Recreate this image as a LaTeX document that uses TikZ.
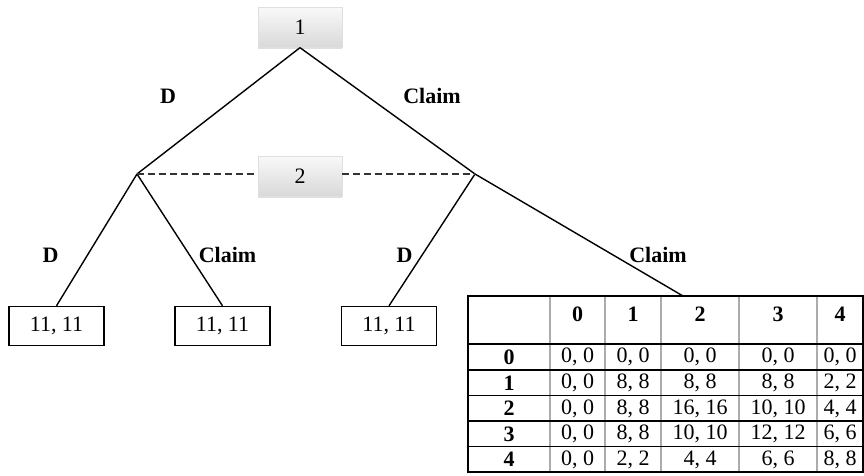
\documentclass[tikz,border=0pt]{standalone}
\usepackage{fontspec}
\setmainfont{Liberation Serif}
\usetikzlibrary{shadows}
\begin{document}
\begin{tikzpicture}[x=1pt,y=-1pt,
  every node/.style={font=\fontsize{22}{24}\selectfont, inner sep=0pt},
  player/.style={minimum width=84pt, minimum height=40pt, top color=gray!5, bottom color=gray!30, draw=gray!25, line width=0.3pt,
    drop shadow={opacity=0.25, shadow xshift=0pt, shadow yshift=-2pt}},
  leaf/.style={draw, line width=1.4pt, minimum width=95pt, minimum height=39pt},
  edge/.style={line width=1.4pt},
  info/.style={line width=1.6pt, dash pattern=on 7pt off 4pt, draw=black!80},
  lbl/.style={font=\fontsize{22}{24}\selectfont\bfseries, anchor=base},
  hline/.style={line width=1.5pt, draw=black},
  vline/.style={line width=1.1pt, draw=gray!65},
  hdr/.style={font=\fontsize{22}{24}\selectfont\bfseries},
]
\useasboundingbox (0,0) rectangle (864,476);

% player nodes
\node[player] (n1) at (300,27.5) {1};
\node[player] (n2) at (300,176) {2};

% decision points
\coordinate (a) at (137,174);
\coordinate (b) at (475,174);

% leaves
\node[leaf] (l1) at (56.5,326) {11, 11};
\node[leaf] (l2) at (222.5,326) {11, 11};
\node[leaf] (l3) at (389,326) {11, 11};
\coordinate (t) at (683,296);

% edges
\draw[edge] (n1.south) -- (a);
\draw[edge] (n1.south) -- (b);
\draw[edge] (a) -- (l1.north);
\draw[edge] (a) -- (l2.north);
\draw[edge] (b) -- (l3.north);
\draw[edge] (b) -- (t);
\draw[info] (a) -- (a -| n2.west);
\draw[info] (b -| n2.east) -- (b);

% action labels
\node[lbl] (dA) at (168,103) {D};
\node[lbl] (cA) at (432,103) {Claim};
\node[lbl] (dB) at (50.5,262) {D};
\node[lbl] (cB) at (227.5,262) {Claim};
\node[lbl] (dC) at (404.5,262) {D};
\node[lbl] (cC) at (658,262) {Claim};

% table grid
\foreach \x in {550,605,661,739,817}
  \draw[vline] (\x,296) -- (\x,472);
\foreach \y in {344,370,395.5,421,446.5}
  \draw[hline] (468,\y) -- (863,\y);
\draw[line width=1.4pt] (468,296) rectangle (863,472);

% header
\foreach \lab/\x in {0/577.5,1/633,2/700,3/778,4/840}
  \node[hdr] (h\lab) at (\x,314) {\lab};
% row labels
\foreach \lab/\y in {0/357,1/383,2/408.5,3/434,4/459.5}
  \node[hdr] (r\lab) at (509,\y) {\lab};

% data
\node (c00) at (577.5,357) {0, 0};
\node (c01) at (633,357) {0, 0};
\node (c02) at (700,357) {0, 0};
\node (c03) at (778,357) {0, 0};
\node (c04) at (840,357) {0, 0};
\node (c10) at (577.5,383) {0, 0};
\node (c11) at (633,383) {8, 8};
\node (c12) at (700,383) {8, 8};
\node (c13) at (778,383) {8, 8};
\node (c14) at (840,383) {2, 2};
\node (c20) at (577.5,408.5) {0, 0};
\node (c21) at (633,408.5) {8, 8};
\node (c22) at (700,408.5) {16, 16};
\node (c23) at (778,408.5) {10, 10};
\node (c24) at (840,408.5) {4, 4};
\node (c30) at (577.5,434) {0, 0};
\node (c31) at (633,434) {8, 8};
\node (c32) at (700,434) {10, 10};
\node (c33) at (778,434) {12, 12};
\node (c34) at (840,434) {6, 6};
\node (c40) at (577.5,459.5) {0, 0};
\node (c41) at (633,459.5) {2, 2};
\node (c42) at (700,459.5) {4, 4};
\node (c43) at (778,459.5) {6, 6};
\node (c44) at (840,459.5) {8, 8};
\end{tikzpicture}
\end{document}
